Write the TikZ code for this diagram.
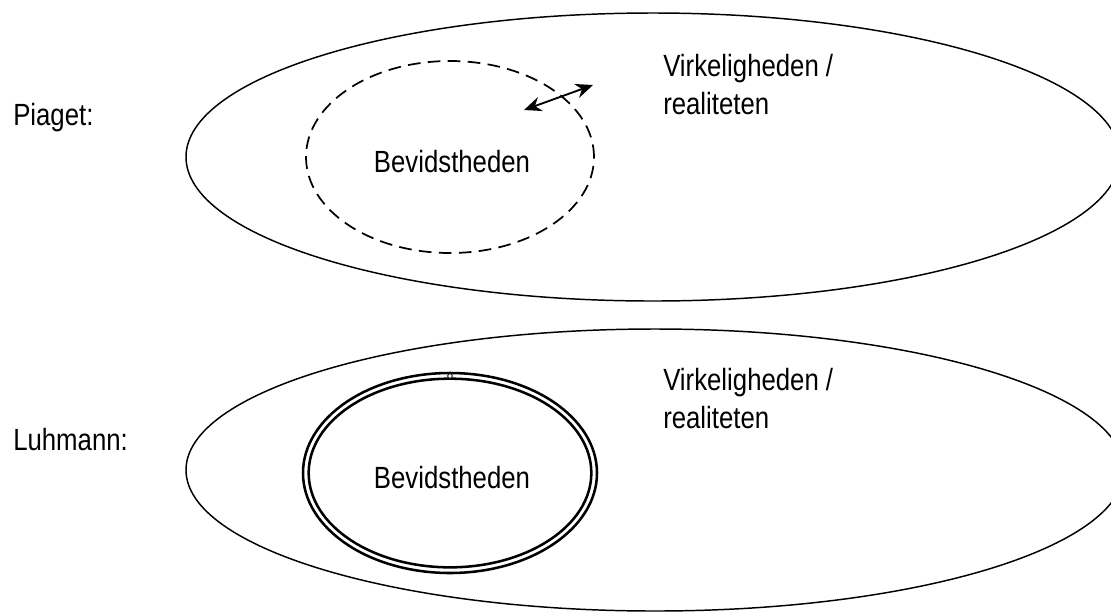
\documentclass[tikz,border=0pt]{standalone}
\usepackage{fontspec}
\setmainfont{Liberation Sans}[FakeStretch=0.84]
\usetikzlibrary{shapes.geometric,arrows.meta}

\tikzset{
  world/.style={ellipse, draw, line width=1.1pt, inner sep=0pt},
  mind/.style={ellipse, draw, inner sep=0pt},
  label/.style={inner sep=0pt, font=\fontsize{23}{28.5}\selectfont},
  headtip/.tip={Stealth[length=13pt,width=11pt]},
}

\begin{document}
\begin{tikzpicture}[x=0.75pt, y=-0.75pt]
  \useasboundingbox (0,0) rectangle (1111,612);
  \clip (0,0) rectangle (1111,612);

  % Piaget: consciousness inside reality, open (dashed) boundary
  \node[label, anchor=base west] (piaget) at (13,125) {Piaget:};
  \node[world, minimum width=700.5pt, minimum height=216pt] (realA) at (653,157) {};
  \node[mind, line width=1.3pt, dash pattern=on 9.5pt off 5.5pt,
        minimum width=216pt, minimum height=144pt] (mindA) at (450,157) {};
  \node[label] (consA) at (452,162) {Bevidstheden};
  \node[label, anchor=north west, align=left] (textA) at (663,54)
        {Virkeligheden /\\realiteten};
  \coordinate (inA)  at (524,110);
  \coordinate (outA) at (593,85);
  \draw[line width=1.4pt, headtip-headtip] (inA) -- (outA);

  % Luhmann: consciousness as a closed system (double boundary)
  \node[label, anchor=base west] (luhmann) at (13,450) {Luhmann:};
  \node[world, minimum width=703.5pt, minimum height=211.5pt] (realB) at (655,470) {};
  \node[mind, line width=1.9pt, minimum width=220.5pt, minimum height=150pt] (mindB) at (450,473) {};
  \node[mind, line width=1.9pt, minimum width=212pt, minimum height=141.5pt] (mindBin) at (450,473) {};
  \node[circle, draw, line width=0.6pt, inner sep=0pt, minimum size=3.5pt, fill=white] (seam) at (450,376) {};
  \node[label] (consB) at (452,478) {Bevidstheden};
  \node[label, anchor=north west, align=left] (textB) at (663,368)
        {Virkeligheden /\\realiteten};
\end{tikzpicture}
\end{document}
